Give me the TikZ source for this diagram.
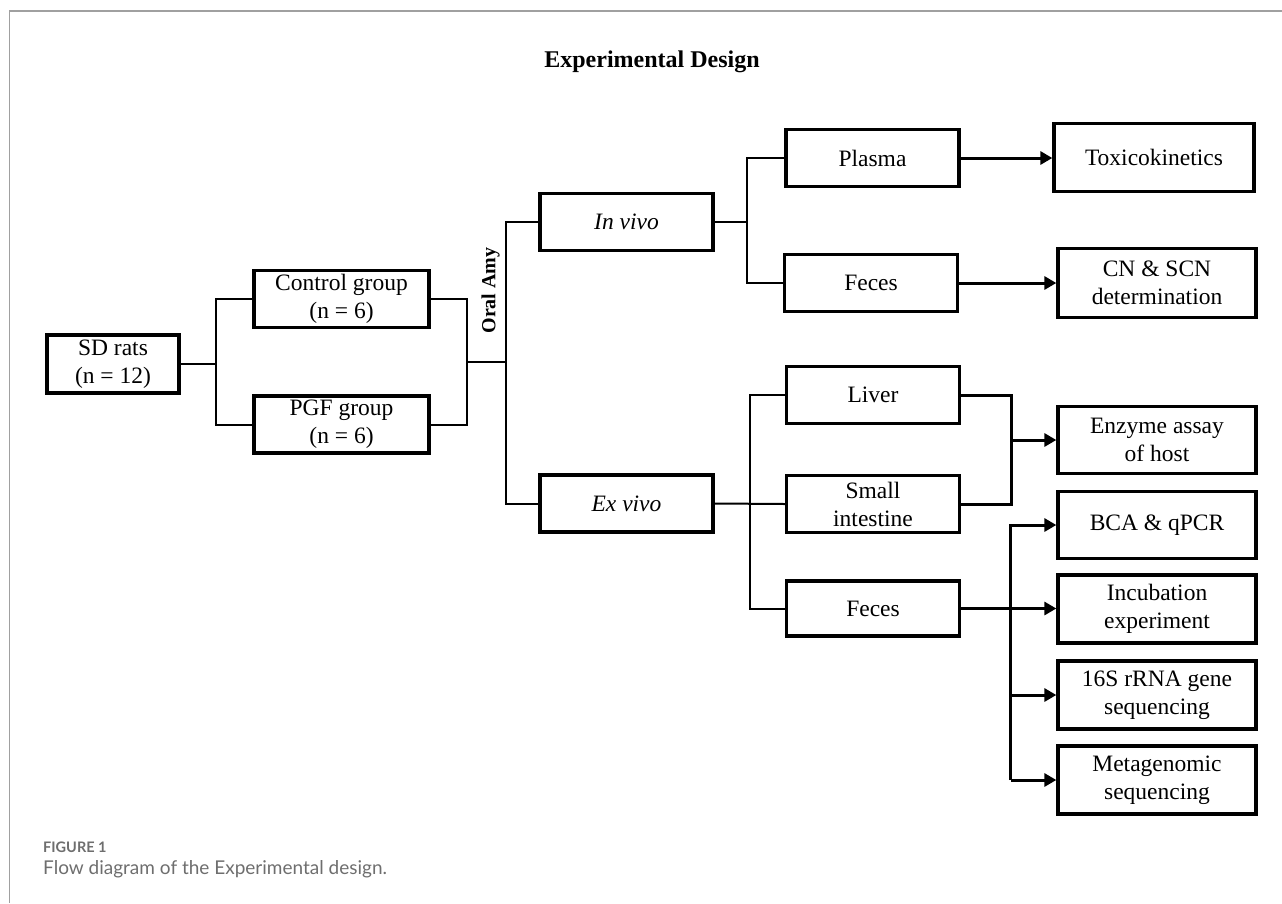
\documentclass[tikz,border=0pt]{standalone}
\usepackage{fontspec}
\setmainfont{Liberation Serif}
\newfontfamily\capfont{Lato}
\usetikzlibrary{arrows.meta}
\definecolor{framegray}{HTML}{A0A0A0}
\definecolor{capgray}{HTML}{6E6E6E}
\tikzset{
  box/.style={draw, line width=3.3pt, inner sep=0pt, align=center, font=\fontsize{23.5}{28}\selectfont},
  mid/.style={box, minimum width=173pt, minimum height=57pt},
  res/.style={box, minimum width=198pt, minimum height=68pt},
  thinline/.style={line width=2pt},
  heavy/.style={line width=3pt},
  arr/.style={line width=3pt, -{Triangle[length=12pt,width=13pt]}},
}
\begin{document}
\begin{tikzpicture}[x=1pt,y=-1pt]
\useasboundingbox (0,0) rectangle (1282,903);
\draw[framegray, line width=1.5pt] (1282,11) -- (9.5,11) -- (9.5,903);

\node[font=\fontsize{24}{28}\selectfont\bfseries] (title) at (652,62) {Experimental Design};

% left part
\node[box, minimum width=132pt, minimum height=58pt] (sd) at (113,364) {SD rats\\(n = 12)};
\node[mid, minimum width=175pt] (ctrl) at (341.5,299) {Control group\\(n = 6)};
\node[mid, minimum width=175pt] (pgf) at (341.5,424.5) {PGF group\\(n = 6)};
\node[rotate=90, font=\fontsize{20}{24}\selectfont\bfseries] (oral) at (490.5,290.5) {Oral Amy};

\node[mid] (invivo) at (626.5,222) {\itshape In vivo};
\node[mid] (exvivo) at (626.5,503.5) {\itshape Ex vivo};

% middle column
\node[mid] (plasma) at (872.5,158) {Plasma};
\node[mid] (feces1) at (871,283) {Feces};
\node[mid] (liver) at (873,395) {Liver};
\node[mid] (small) at (873,504) {Small\\intestine};
\node[mid, minimum height=55pt] (feces2) at (873,608.5) {Feces};

% right column
\node[res, minimum width=200pt] (toxi) at (1154,157.5) {Toxicokinetics};
\node[res, minimum height=69pt] (cn) at (1157,283) {CN \& SCN\\determination};
\node[res, minimum height=67pt] (enzyme) at (1157,440) {Enzyme assay\\of host};
\node[res, minimum height=67pt] (bca) at (1157,525) {BCA \& qPCR};
\node[res] (incub) at (1157,609) {Incubation\\experiment};
\node[res] (s16) at (1157,695) {16S rRNA gene\\sequencing};
\node[res] (meta) at (1157,780) {Metagenomic\\sequencing};

% connectors left
\coordinate (j1) at (216,364);
\coordinate (j2) at (467,362);
\coordinate (j3) at (505.7,362);
\draw[thinline] (sd.east) -- (j1);
\draw[thinline] (ctrl.west) -| (j1) |- (pgf.west);
\draw[thinline] (ctrl.east) -| (j2) |- (pgf.east);
\draw[thinline] (j2) -- (j3);
\draw[thinline] (invivo.west) -| (j3) |- (exvivo.west);

% in vivo branch
\coordinate (j4) at (747,222);
\draw[thinline] (invivo.east) -- (j4);
\draw[thinline] (plasma.west) -| (j4) |- (feces1.west);
\draw[arr] (plasma.east) -- (plasma.east -| toxi.west);
\draw[arr] (feces1.east) -- (feces1.east -| cn.west);

% ex vivo branch
\coordinate (j5) at (750,504);
\draw[thinline] (exvivo.east) -- (small.west);
\draw[thinline] (liver.west) -| (j5) |- (feces2.west);

\coordinate (j6) at (1011.7,440);
\draw[heavy] (liver.east) -| (j6) |- (small.east);
\draw[arr] (j6) -- (enzyme.west);

\draw[arr] (feces2.east) -- (feces2.east -| incub.west);
\coordinate (vt) at (1010.5,525);
\coordinate (vb) at (1010.5,780);
\draw[arr] (vb) -- (vt) -- (bca.west);
\draw[arr] (vt |- s16.west) -- (s16.west);
\draw[arr] (vb) -- (meta.west);

% caption
\node[anchor=west, inner sep=0pt, text=capgray, font=\capfont\bfseries\fontsize{14.5}{17}\selectfont] (fig) at (43,847) {FIGURE 1};
\node[anchor=west, inner sep=0pt, text=capgray, font=\capfont\fontsize{19}{22}\selectfont] (cap) at (43,869) {Flow diagram of the Experimental design.};
\end{tikzpicture}
\end{document}
